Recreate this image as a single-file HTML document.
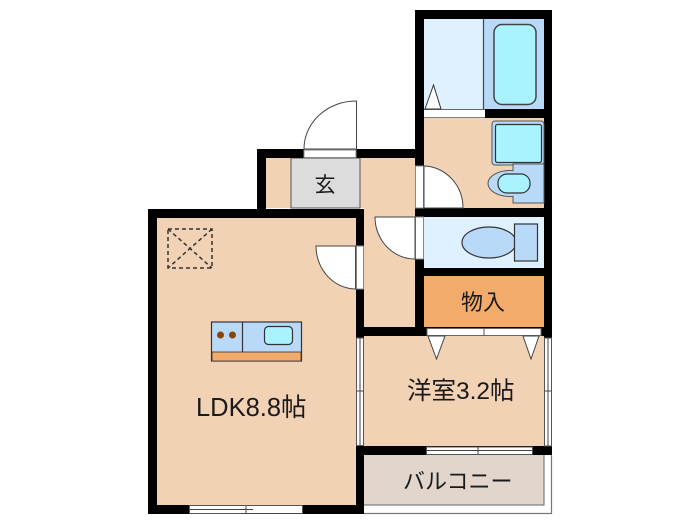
<!DOCTYPE html>
<html><head><meta charset="utf-8"><style>
html,body{margin:0;padding:0;background:#fff;width:700px;height:525px;overflow:hidden}
svg{display:block}
text{font-family:"Liberation Sans","Noto Sans CJK JP",sans-serif;fill:#1a1a1a}
</style></head><body>
<svg width="700" height="525" viewBox="0 0 700 525" xmlns="http://www.w3.org/2000/svg">
<rect width="700" height="525" fill="#fff"/>
<g style="filter:blur(0.35px)">
<!-- floors -->
<rect x="157" y="218" width="199" height="287" fill="#f2d2b4"/>
<rect x="266" y="158" width="149" height="50" fill="#f2d2b4"/>
<rect x="364" y="158" width="51" height="170" fill="#f2d2b4"/>
<rect x="291" y="158" width="69" height="50" fill="#dcdcdc" stroke="#555" stroke-width="1"/>
<rect x="424" y="19" width="60" height="91" fill="#dff1ff"/>
<rect x="484" y="19" width="60" height="90" fill="#b9d9f9"/>
<rect x="424" y="118" width="120" height="90" fill="#f2d2b4"/>
<rect x="424" y="217" width="120" height="51" fill="#dff1ff"/>
<rect x="424" y="276" width="120" height="51" fill="#f3ab6b"/>
<rect x="364" y="336" width="180" height="110" fill="#f2d2b4"/>
<!-- balcony -->
<rect x="364" y="455" width="188" height="59" fill="#fff"/>
<rect x="364" y="455" width="180" height="50" fill="#e2d6cc"/>
<path d="M544 455V505H364" fill="none" stroke="#666" stroke-width="1"/>
<path d="M364 513.500H551.500V455" fill="none" stroke="#777" stroke-width="1.200"/>
<!-- walls -->
<g fill="#000">
<rect x="415" y="10" width="137" height="9"/>
<rect x="415" y="10" width="9" height="326"/>
<rect x="544" y="10" width="8" height="326"/>
<rect x="484" y="109" width="60" height="9"/>
<rect x="424" y="109" width="60" height="9"/>
<rect x="257" y="149" width="158" height="9"/>
<rect x="257" y="149" width="9" height="68"/>
<rect x="148" y="209" width="216" height="9"/>
<rect x="148" y="209" width="9" height="305"/>
<rect x="356" y="209" width="8" height="305"/>
<rect x="148" y="505" width="216" height="9"/>
<rect x="424" y="208" width="128" height="9"/>
<rect x="424" y="268" width="128" height="8"/>
<rect x="356" y="327" width="196" height="9"/>
<rect x="356" y="446" width="196" height="9"/>
<rect x="544" y="336" width="8" height="2"/>
</g>
<!-- bath -->
<path d="M483.500 19V109" stroke="#444" stroke-width="1.200"/>
<rect x="424" y="109.500" width="61" height="8" fill="#fff"/>
<path d="M424 109.500H485" stroke="#666"/>
<rect x="494" y="24.500" width="42" height="80" rx="8" fill="#a8f3fd" stroke="#444" stroke-width="1.500"/>
<path d="M425 109L433.500 85L441 109Z" fill="#fff" stroke="#333" stroke-width="1"/>
<!-- wash room -->
<rect x="492" y="121" width="52" height="44" rx="3" fill="#b9d9f9" stroke="#555"/>
<rect x="495.500" y="124.500" width="46" height="38" rx="2" fill="#a8f3fd" stroke="#333" stroke-width="1.200"/>
<ellipse cx="510" cy="183.500" rx="22" ry="13" fill="#b9d9f9" stroke="#555"/>
<rect x="513" y="164" width="31" height="39" fill="#b9d9f9" stroke="#555"/>
<rect x="510" y="171.200" width="5" height="24.600" fill="#b9d9f9"/>
<rect x="498" y="174" width="32" height="19" rx="9" fill="#a8f3fd" stroke="#333" stroke-width="1.200"/>
<!-- toilet -->
<ellipse cx="489" cy="242.500" rx="27" ry="15.500" fill="#b9d9f9" stroke="#333" stroke-width="1.200"/>
<rect x="514.500" y="224" width="23" height="37" fill="#b9d9f9" stroke="#333" stroke-width="1.200"/>
<!-- doors -->
<g fill="#fff" stroke="#444" stroke-width="1">
<rect x="304" y="150" width="52" height="7.500" stroke="#888"/>
<path d="M304 149A52 48 0 0 1 356.500 101V149Z"/>
<rect x="415.500" y="166" width="8" height="42" stroke="#888"/>
<path d="M424 166A40 42 0 0 1 463 208H424Z"/>
<rect x="415.500" y="217" width="8" height="42" stroke="#888"/>
<path d="M375 217H415V259A40 42 0 0 1 375 217Z"/>
<rect x="356.500" y="246" width="7" height="43" stroke="#888"/>
<path d="M316 246H355.500V289A40 43 0 0 1 316 246Z"/>
</g>
<!-- closet -->
<rect x="427" y="328.500" width="114" height="7" fill="#fff" stroke="#666"/>
<path d="M484 328.500V335.500" stroke="#555"/>
<path d="M428 336H445L436.500 359Z M523 336H539L531 359Z" fill="#fff" stroke="#444" stroke-width="1"/>
<!-- windows -->
<g fill="#fff" stroke="#555" stroke-width="1">
<rect x="189.500" y="505.500" width="113" height="8"/>
<rect x="426.500" y="447" width="106" height="7.500"/>
<rect x="356.500" y="338" width="7" height="107.500"/>
<rect x="544.500" y="338" width="7" height="108"/>
</g>
<g fill="none" stroke="#444" stroke-width="1">
<path d="M189.500 509.500H253M241 513.500H302.500M246 506V513.500"/>
<path d="M426.500 450.500H480M476 450.500H532.500M478 447V454.500"/>
<path d="M360 338V394M360 390V445.500M356.500 391H363.500"/>
<path d="M548 338V394M548 390V446M544.500 391H551.500"/>
</g>
<!-- skylight -->
<g fill="none" stroke="#333" stroke-width="1.500" stroke-dasharray="4 3">
<rect x="168" y="229" width="44" height="39"/>
<path d="M168 229L212 268M212 229L168 268"/>
</g>
<!-- kitchen -->
<rect x="211.500" y="322" width="90" height="39" fill="#b9d9f9" stroke="#333" stroke-width="1.200"/>
<rect x="212" y="352" width="89" height="9" fill="#f3ab6b" stroke="#333" stroke-width=".8"/>
<path d="M242.500 322V352" stroke="#333" stroke-width="1.200"/>
<circle cx="220.500" cy="335" r="3.500" fill="#8a4308"/>
<circle cx="232.500" cy="335" r="3.500" fill="#8a4308"/>
<rect x="264.500" y="326.500" width="28" height="18" rx="4" fill="#a8f3fd" stroke="#333" stroke-width="1.200"/>
<!-- labels -->
<text x="325" y="192" font-size="21" text-anchor="middle">玄</text>
<text x="461" y="310" font-size="22">物入</text>
<text x="407" y="399" font-size="24.500">洋室3.2帖</text>
<text x="196" y="416" font-size="25.500">LDK8.8帖</text>
<text x="403" y="489" font-size="22">バルコニー</text>
</g>
</svg>
</body></html>
